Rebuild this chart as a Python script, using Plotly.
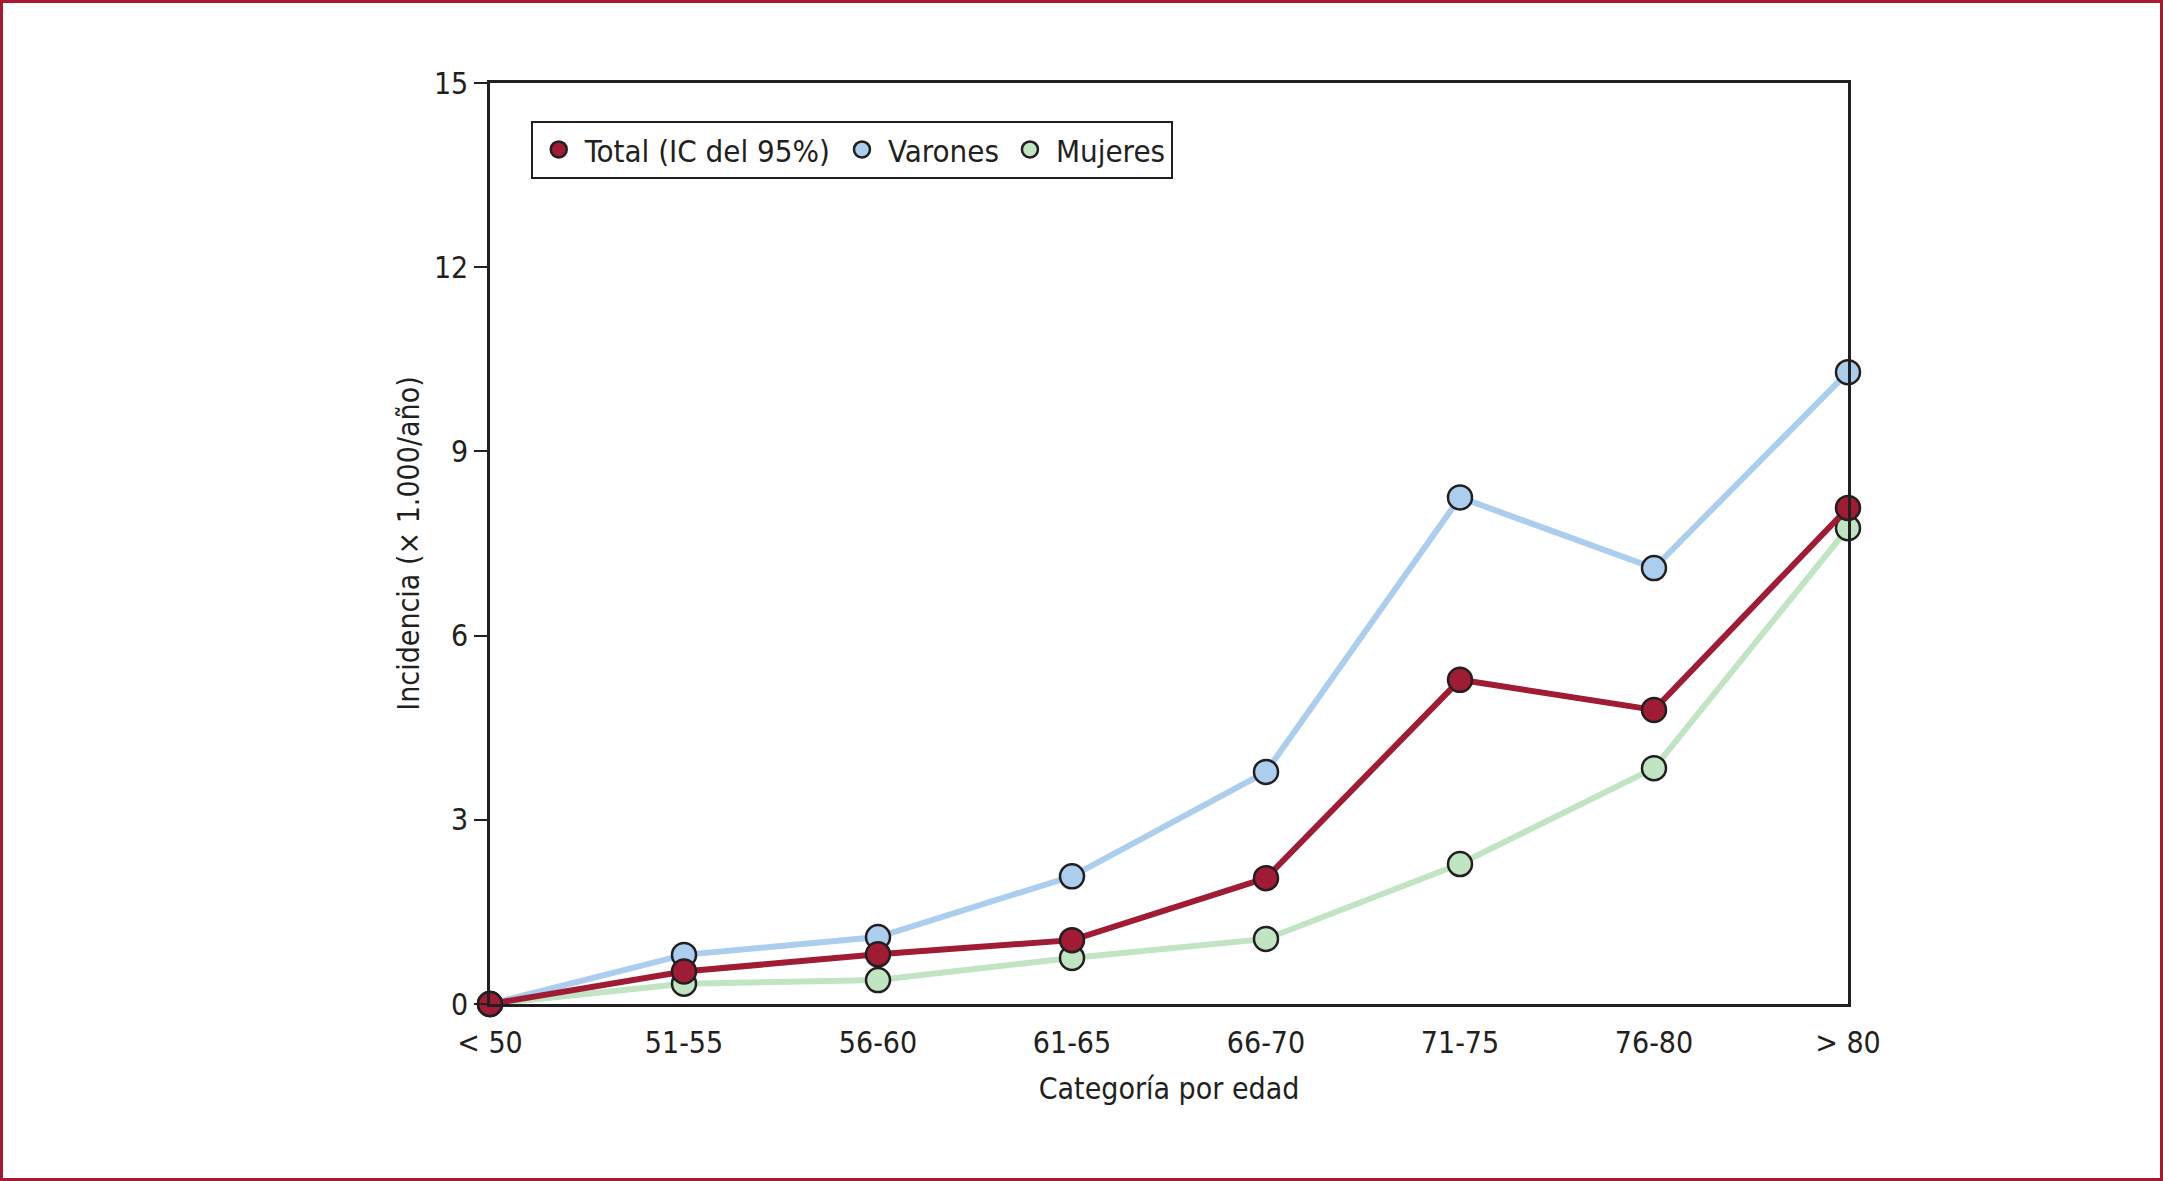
import plotly.graph_objects as go

categories = ["< 50", "51-55", "56-60", "61-65", "66-70", "71-75", "76-80", "> 80"]
total = [0.0, 0.53, 0.81, 1.04, 2.05, 5.28, 4.79, 8.08]
varones = [0.0, 0.80, 1.09, 2.08, 3.78, 8.25, 7.10, 10.29]
mujeres = [0.0, 0.33, 0.39, 0.75, 1.06, 2.28, 3.84, 7.75]
y_ticks = [0, 3, 6, 9, 12, 15]

series_names = ["Total (IC del 95%)", "Varones", "Mujeres"]
colors = {"Total (IC del 95%)": "#A01C35", "Varones": "#ABCDEE", "Mujeres": "#C1E4C3"}
ink = "#231F20"
FONT = "DejaVu Sans Condensed, Liberation Sans Narrow, sans-serif"
FS = 30

W, H = 2163, 1181
L, R, T, B = 490, 1848, 83, 1004

x_idx = list(range(len(categories)))
fig = go.Figure()

# legend-only entries (marker only)
for name in series_names:
    fig.add_trace(go.Scatter(
        x=[None], y=[None], mode="markers", name=name,
        marker=dict(size=24, color=colors[name], line=dict(color=ink, width=2.5)),
    ))

data = {"Mujeres": mujeres, "Varones": varones, "Total (IC del 95%)": total}
for name in ["Mujeres", "Varones", "Total (IC del 95%)"]:
    fig.add_trace(go.Scatter(
        x=x_idx, y=data[name], mode="lines+markers", name=name, showlegend=False,
        line=dict(color=colors[name], width=6),
        marker=dict(size=24, color=colors[name], line=dict(color=ink, width=2.5)),
        cliponaxis=False,
    ))

pw = R - L
ph = B - T
fig.add_shape(type="rect", xref="paper", yref="paper",
              x0=(1.5 - L) / pw, x1=(W - 1.5 - L) / pw,
              y0=(B - (H - 1.5)) / ph, y1=(B - 1.5) / ph,
              line=dict(color="#A6192E", width=3), fillcolor="rgba(0,0,0,0)", layer="below")

fig.update_layout(
    width=W, height=H,
    margin=dict(l=L, r=W - R, t=T, b=H - B),
    paper_bgcolor="white", plot_bgcolor="white",
    font=dict(family=FONT, size=FS, color=ink),
    showlegend=True,
    legend=dict(
        x=0.030, y=0.959, xanchor="left", yanchor="top", orientation="h",
        bordercolor=ink, borderwidth=2, bgcolor="white",
        font=dict(family=FONT, size=31, color=ink),
        itemwidth=42, tracegroupgap=0,
    ),
    xaxis=dict(
        range=[0, len(categories) - 1], tickmode="array", tickvals=x_idx, ticktext=categories,
        showgrid=False, zeroline=False, showline=True, linecolor=ink, linewidth=2.5, mirror=True,
        ticks="", tickfont=dict(size=FS), ticklabelstandoff=10,
        title=dict(text="Categoría por edad", font=dict(size=FS), standoff=20),
    ),
    yaxis=dict(
        range=[0, 15], tickmode="array", tickvals=y_ticks,
        showgrid=False, zeroline=False, showline=True, linecolor=ink, linewidth=2.5, mirror=True,
        ticks="outside", ticklen=13, tickwidth=2, tickcolor=ink, tickfont=dict(size=FS),
        title=dict(text="Incidencia (× 1.000/año)", font=dict(size=FS), standoff=6),
    ),
)

fig.write_html(
    "out.html",
    config={"displayModeBar": False},
    post_script="document.body.style.margin='0';document.body.style.overflow='hidden';",
)
